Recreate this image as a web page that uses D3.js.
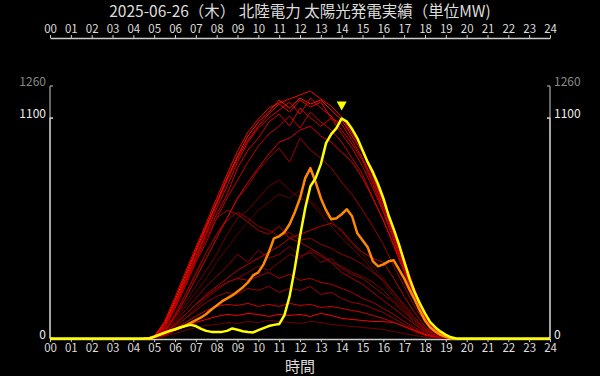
<!DOCTYPE html>
<html>
<head>
<meta charset="utf-8">
<script src="https://cdn.jsdelivr.net/npm/d3@7"></script>
<style>
  body { margin: 0; background: #000; }
  svg { display: block; font-family: "Noto Sans CJK JP", "Noto Sans", sans-serif; }
</style>
</head>
<body>
<svg id="chart" width="600" height="376"></svg>
<script>
const TITLE = "2025-06-26（木） 北陸電力 太陽光発電実績（単位MW)";
const X_LABEL = "時間";
const hourLabels = ["00","01","02","03","04","05","06","07","08","09","10","11","12",
  "13","14","15","16","17","18","19","20","21","22","23","24"];
const yTickValues = [0, 1100];
const yMaxLabel = 1260;

// half-hour grid 04:30 .. 19:30 for the past days
const halfHours = [4.5,5,5.5,6,6.5,7,7.5,8,8.5,9,9.5,10,10.5,11,11.5,12,12.5,13,13.5,14,
  14.5,15,15.5,16,16.5,17,17.5,18,18.5,19,19.5];

// past days of the month (MW)
const pastDays = [
  [0,10,85,205,330,455,575,700,820,935,1030,1095,1150,1175,1195,1215,1235,1195,1160,1105,1025,945,820,690,545,395,245,120,50,12,0],
  [0,8,75,190,315,440,560,680,800,910,1010,1080,1130,1190,1150,1200,1170,1190,1140,1090,1010,930,810,680,535,385,240,115,45,10,0],
  [0,6,70,180,300,430,550,670,790,900,990,1060,1120,1170,1130,1190,1155,1180,1100,1070,990,900,790,660,520,375,230,110,42,8,0],
  [0,5,60,170,290,410,530,650,760,880,980,1050,1100,1140,1180,1120,1200,1150,1110,1040,970,890,770,640,505,360,220,105,40,8,0],
  [0,5,55,160,280,400,520,620,720,850,940,1000,1080,1120,1060,1150,1100,1060,1100,1020,950,860,750,630,490,350,210,100,38,6,0],
  [0,4,50,150,260,380,480,600,700,790,880,960,1020,1060,1110,1050,1130,1080,1040,980,900,820,700,590,460,330,200,95,35,6,0],
  [0,3,40,120,220,320,430,520,600,700,760,840,900,950,880,1000,940,900,850,780,720,640,560,470,360,260,160,80,30,5,0],
  [0,3,35,100,180,260,340,420,520,600,640,700,760,790,740,700,680,620,560,500,450,400,340,280,210,150,90,45,15,3,0],
  [0,4,50,150,270,390,500,600,640,620,580,540,520,560,500,480,450,420,380,330,300,270,230,190,150,110,70,35,12,2,0],
  [0,2,30,80,140,200,260,310,360,420,380,440,400,420,460,410,430,380,400,350,320,300,260,220,180,130,80,40,15,3,0],
  [0,2,25,70,120,170,220,260,300,340,370,400,430,460,500,520,540,560,575,540,480,430,400,380,300,210,130,60,20,4,0],
  [0,2,20,60,100,140,180,210,230,220,250,240,260,230,250,240,260,220,230,200,180,170,150,130,100,70,45,20,8,2,0],
  [0,2,15,40,60,80,95,110,120,115,125,120,110,120,115,120,110,125,115,100,95,90,85,84,80,60,40,20,8,2,0],
  [0,2,18,50,80,110,140,160,170,165,175,160,170,160,175,165,170,155,160,150,140,130,115,100,80,60,35,16,6,1,0],
  [0,2,22,60,100,150,200,240,280,300,330,360,340,380,420,400,440,410,380,360,330,310,280,240,190,140,90,45,15,3,0],
  [0,2,30,90,160,230,300,380,450,520,580,640,680,720,700,740,690,640,590,530,470,420,360,300,230,160,100,48,16,3,0],
  [0,1,10,25,40,55,65,70,80,75,85,80,90,85,80,75,85,80,70,65,60,55,50,45,35,25,15,8,3,1,0],
  [0,3,40,120,220,330,430,520,590,630,600,560,540,510,530,490,500,470,450,420,400,370,330,290,230,170,105,50,18,3,0],
  [0,3,35,110,200,300,400,500,600,700,780,850,920,980,1000,1040,1060,1010,980,930,880,800,700,590,470,340,210,100,35,6,0],
  [0,2,25,70,120,170,210,250,280,300,290,310,330,300,320,290,300,280,270,250,230,200,180,150,120,85,55,25,8,2,0]
];

// quarter-hour grid 04:30 .. 19:30 for yesterday / today
const quarterHours = d3.range(4.5, 19.51, 0.25);

const yesterday = [0,0,10,20,30,38,45,55,65,78,92,105,122,145,165,185,200,215,235,255,280,315,330,370,
  430,500,510,530,570,630,700,800,850,780,700,640,595,600,620,645,610,525,490,455,385,360,370,385,390,
  345,300,245,195,140,90,55,34,18,8,0,0];

const todayTimes = [0, ...quarterHours, 24];
const today = [0,0,0,8,18,28,38,46,55,62,68,62,48,38,33,32,33,38,50,44,36,32,30,42,52,62,68,72,115,210,
  350,510,650,760,800,870,975,1020,1050,1098,1082,1045,1000,940,880,830,770,700,615,545,470,385,300,232,
  175,125,82,55,34,18,6,0,0];

const pastShades = ["#ff0000","#ff1a00","#f00000","#e00000","#d40000","#c80000","#a00000","#700000",
  "#b00000","#900000","#c00000","#a00000","#ff0000","#d00000","#800000","#600000","#700000","#900000",
  "#e00000","#b00000"];

const svg = d3.select("#chart");
const width = 600;

const x = d3.scaleLinear().domain([0, 24]).range([50, 550]);
const y = d3.scaleLinear().domain([0, yMaxLabel]).range([338.5, 86]);

svg.append("rect").attr("width", 600).attr("height", 376).attr("fill", "#000");

svg.append("text")
  .attr("x", width / 2)
  .attr("y", 17)
  .attr("text-anchor", "middle")
  .attr("fill", "#ddd")
  .style("font-size", "15.5px")
  .text(TITLE);

// hour axes, top and bottom
const hourAxis = (axis) =>
  axis.tickValues(d3.range(0, 25)).tickFormat((d) => hourLabels[d]).tickSize(3).tickSizeOuter(0).tickPadding(2);

const styleAxis = (g) => {
  g.select(".domain").attr("stroke", "#ccc").attr("stroke-width", 1.5);
  g.selectAll(".tick line").attr("stroke", "#ccc");
  g.selectAll(".tick text").attr("fill", "#ddd").style("font-size", "11.5px")
    .style("font-family", '"Noto Sans CJK JP", "Noto Sans", sans-serif');
};

svg.append("g")
  .attr("transform", "translate(0,38)")
  .call(hourAxis(d3.axisTop(x)))
  .call(styleAxis);

svg.append("g")
  .attr("transform", "translate(0,339)")
  .call(hourAxis(d3.axisBottom(x)))
  .call(styleAxis);

svg.append("text")
  .attr("x", width / 2)
  .attr("y", 372)
  .attr("text-anchor", "middle")
  .attr("fill", "#ddd")
  .style("font-size", "15px")
  .text(X_LABEL);

// value axes, left and right
[{ px: 50, dir: -1, anchor: "end" }, { px: 550, dir: 1, anchor: "start" }].forEach(({ px, dir, anchor }) => {
  const g = svg.append("g");
  g.append("line")
    .attr("x1", px).attr("x2", px)
    .attr("y1", y(yMaxLabel)).attr("y2", y(yTickValues[1]))
    .attr("stroke", "#888").attr("stroke-width", 1.5);
  g.append("line")
    .attr("x1", px).attr("x2", px)
    .attr("y1", y(yTickValues[1])).attr("y2", y(0))
    .attr("stroke", "#ddd").attr("stroke-width", 1.5);

  const ticks = [...yTickValues.map((v) => ({ v, c: "#eee", lc: "#ddd" })), { v: yMaxLabel, c: "#888", lc: "#888" }];
  ticks.forEach(({ v, c, lc }) => {
    g.append("line")
      .attr("x1", px).attr("x2", px - dir * 3)
      .attr("y1", y(v)).attr("y2", y(v))
      .attr("stroke", lc).attr("stroke-width", 1.5);
    g.append("text")
      .attr("x", px + dir * 4)
      .attr("y", y(v) - 4)
      .attr("dy", "0.35em")
      .attr("text-anchor", anchor)
      .attr("fill", c)
      .style("font-size", "12px")
      .text(v);
  });
});

const line = d3.line().x((d) => x(d[0])).y((d) => y(d[1]));

svg.append("g")
  .selectAll("path")
  .data(pastDays)
  .join("path")
  .attr("d", (vals) => line(vals.map((v, i) => [halfHours[i], v])))
  .attr("fill", "none")
  .attr("stroke", (d, i) => pastShades[i])
  .attr("stroke-width", 1)
  .attr("stroke-linejoin", "round");

svg.append("path")
  .attr("d", line(yesterday.map((v, i) => [quarterHours[i], v])))
  .attr("fill", "none")
  .attr("stroke", "#ff8800")
  .attr("stroke-width", 2.5)
  .attr("stroke-linejoin", "round");

svg.append("path")
  .attr("d", line(today.map((v, i) => [todayTimes[i], v])))
  .attr("fill", "none")
  .attr("stroke", "#ffff00")
  .attr("stroke-width", 2.5)
  .attr("stroke-linejoin", "round");

// marker over today's peak
const peak = d3.maxIndex(today);
const mx = x(todayTimes[peak]);
const my = y(today[peak]) - 8;
svg.append("path")
  .attr("d", `M${mx - 5},${my - 9}L${mx + 5},${my - 9}L${mx},${my}Z`)
  .attr("fill", "#ffff00");
</script>
</body>
</html>
